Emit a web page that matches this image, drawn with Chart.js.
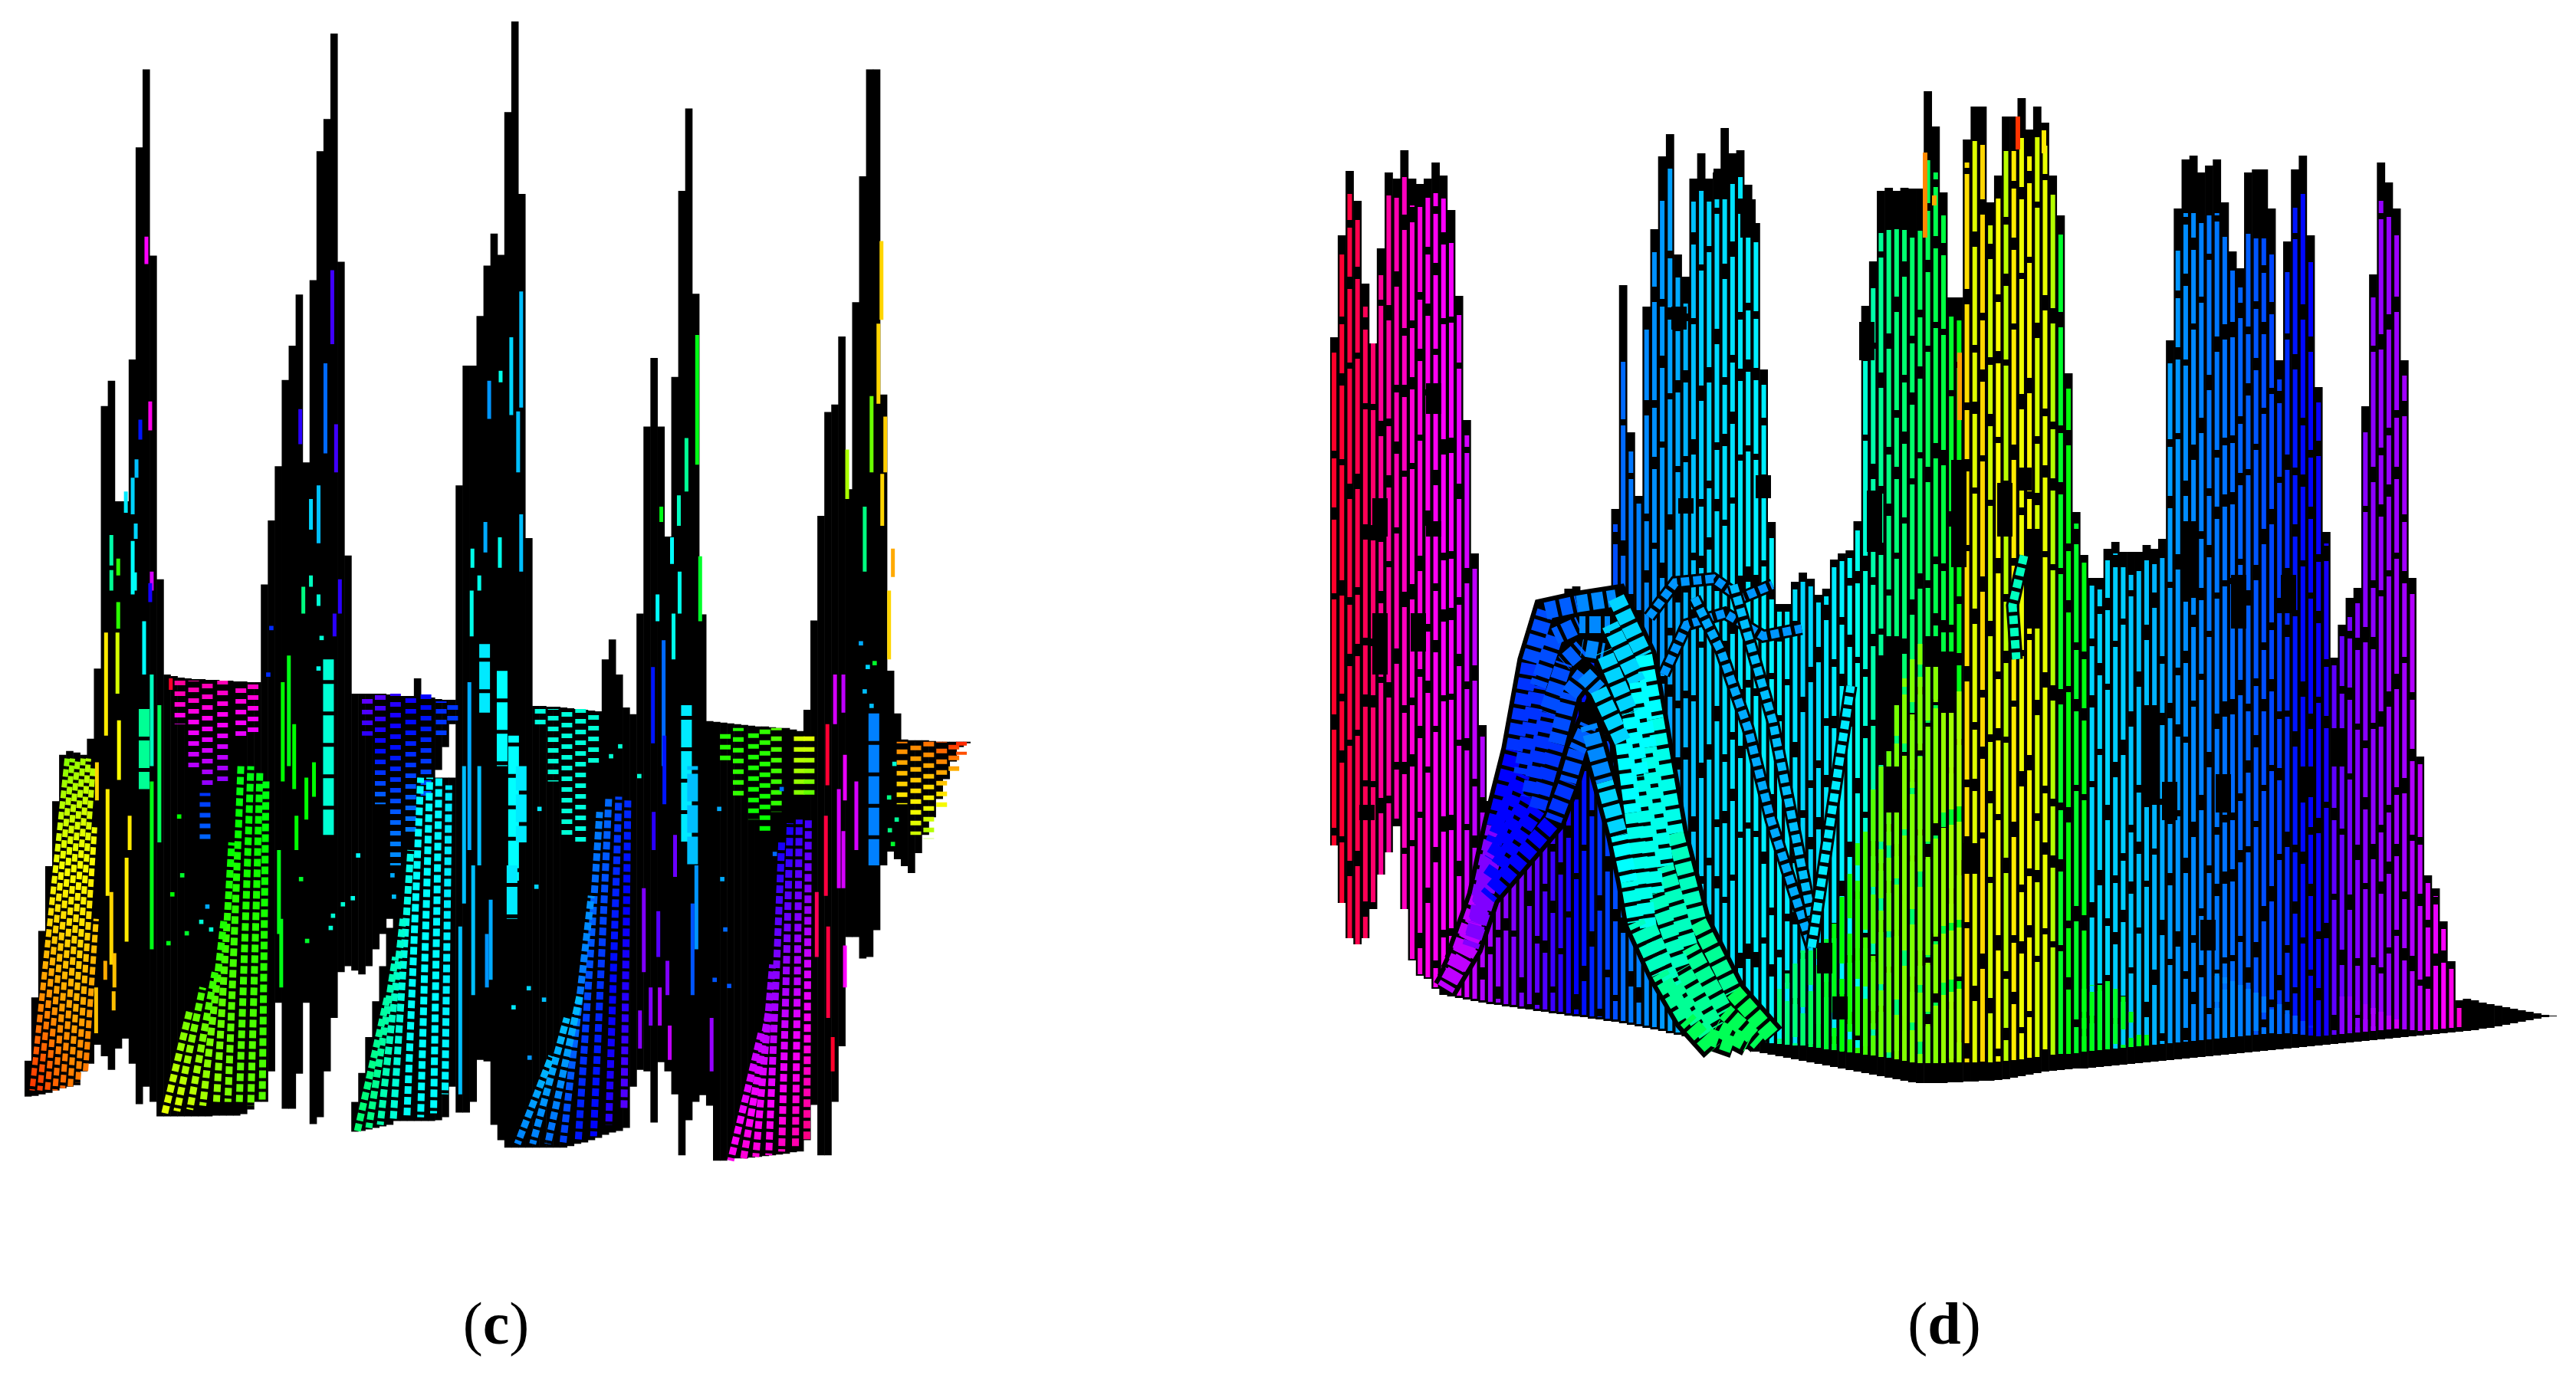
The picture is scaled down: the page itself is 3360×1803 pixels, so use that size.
<!DOCTYPE html>
<html lang="en">
<head>
<meta charset="UTF-8">
<title>Surface plots (c) and (d)</title>
<script src="https://cdn.jsdelivr.net/npm/chart.js"></script>
<style>
  html, body { margin: 0; background: #fff; }
  body { position: relative; width: 3360px; height: 1803px; overflow: hidden; }
  .panel { position: absolute; top: 0; height: 1803px; }
  .caption { position: absolute; top: 1688px; width: 200px; text-align: center; color: #000;
             font: 78px/78px "Liberation Serif", serif; }
</style>
</head>
<body>
<div class="panel" style="left:28px;width:1242px"><canvas id="chartC" width="1242" height="1803"></canvas></div>
<div class="panel" style="left:1735px;width:1600px"><canvas id="chartD" width="1600" height="1803"></canvas></div>
<div class="caption" style="left:547px">(<b>c</b>)</div>
<div class="caption" style="left:2436px">(<b>d</b>)</div>

<script>
// ---------- panel (c): black silhouette, one value per column ----------
var cTop = [1386,1303,1216,1131,1046,985,980,982,985,964,872,528,495,653,653,467,189,87,331,755,
  880,882,884,885,886,886,887,887,888,888,889,889,890,890,762,678,607,494,449,382,602,363,194,152,40,339,724,
  905,905,905,905,905,906,906,908,908,885,910,910,912,913,913,632,475,475,410,344,302,330,143,24,250,701,
  921,921,922,922,923,924,925,926,927,928,860,834,880,923,932,800,555,465,555,699,490,246,138,381,801,
  941,942,943,944,945,946,947,948,948,949,950,950,952,954,926,809,672,536,526,437,637,392,227,87,87,513,875,931,
  965,966,966,966,967,968,968,968,968,968];
var cBottom = [1433,1432,1430,1428,1425,1422,1420,1418,1400,1390,1365,1380,1398,1370,1357,1390,1443,1420,1440,1459,
  1459,1459,1459,1459,1459,1459,1459,1458,1458,1458,1458,1456,1450,1440,1440,1400,1310,1449,1449,1403,1310,1469,1460,1400,1330,1270,1262,
  1268,1273,1262,1240,1220,1200,1465,1465,1465,1465,1465,1465,1005,975,945,1454,1454,1440,1385,1387,1470,1490,1500,1500,1500,1500,
  1500,1500,1500,1500,1500,1498,1495,1493,1490,1487,1483,1480,1478,1474,1420,1398,1400,1467,1388,1400,1430,1510,1464,1440,1431,
  1445,1517,1517,1515,1514,1514,1513,1512,1511,1510,1509,1508,1506,1505,1490,1444,1510,1510,1440,1367,1224,1224,1252,1250,1215,1130,1112,1122,
  1131,1140,1114,1090,1067,1043,1017,994,975,970];
// second black piece under a white wedge: column, top, bottom
var cLowerCols = [47,48,49,50,51,52,59,60,61];
var cLowerTop = [1440,1402,1355,1308,1262,1212,1015,1015,1015];
var cLowerBottom = [1479,1478,1476,1474,1472,1470,1464,1460,1420];

// thin coloured stripes inside the spikes: x, from, to, hue
var cThin = [
  [188,306,342,300],[193,522,560,305],[180,546,572,235],[175,598,622,195],[170,622,670,190],[161,640,668,185],
  [174,682,702,190],[170,705,775,180],[142,697,737,160],[142,743,770,155],[151,728,750,110],[173,746,770,178],
  [195,745,770,290],[193,760,785,245],[151,785,820,110],[220,885,900,350],
  [432,350,447,255],[423,472,590,215],[437,552,615,255],[390,532,578,250],[414,632,708,195],[404,650,690,190],
  [394,765,800,150],[404,750,765,165],[414,775,790,170],[442,755,800,250],[435,800,830,250],
  [680,378,530,195],[667,438,540,190],[638,495,545,205],[653,482,497,175],[676,535,615,195],[680,670,745,195],
  [633,680,720,200],[652,700,740,175],[616,715,740,175],[625,750,770,175],[615,770,830,175],
  [911,435,605,125],[897,570,640,155],[887,645,685,165],[864,660,680,125],[878,700,735,180],[888,745,800,175],
  [915,725,810,130],[859,775,810,180],[880,800,860,175],
  [1153,312,415,50],[1149,420,525,50],[1140,515,615,95],[1158,542,615,48],[1154,617,685,50],[1108,585,650,80],
  [1131,660,745,150],[1168,715,752,40],[1163,770,860,50],
  [135,825,960,55],[150,825,905,70],[152,940,1018,60],[123,995,1045,50],[137,1030,1170,55],[166,1065,1110,55],
  [162,1120,1230,55],[142,1165,1260,50],[134,1255,1280,40],[146,1245,1290,45],[145,1295,1320,45],[122,1290,1350,45],
  [185,810,880,180],[195,880,1000,165],[205,920,1100,140],[195,1020,1240,125],
  [375,855,1000,125],[367,890,1020,120],[382,945,1030,120],[408,995,1040,120],[398,1015,1070,120],[385,1065,1110,120],
  [362,1110,1220,125],[365,1200,1290,125],
  [612,890,1110,200],[605,1000,1180,195],[625,1000,1130,195],[640,1175,1280,200],[617,1130,1300,195],[600,1210,1430,195],[635,1220,1290,205],
  [853,870,970,235],[867,835,1000,215],[868,960,1050,235],[854,1060,1110,250],[882,1090,1145,265],[841,1160,1270,270],
  [860,1190,1250,260],[872,1255,1300,270],[850,1290,1340,270],[836,1320,1370,272],[862,1290,1340,280],[875,1340,1385,285],
  [910,1130,1240,205],[905,1180,1300,220],[930,1330,1400,275],
  [1092,880,945,290],[1103,880,930,285],[1082,945,1025,348],[1080,1065,1170,345],[1068,1165,1250,340],[1083,1210,1330,345],
  [1089,1355,1400,350],[1097,1030,1160,290],[1105,985,1045,295],[1120,1020,1110,290],[1103,1085,1160,290],[1105,1235,1290,300]
];
// wide patches
var cWide = [[185,925,1030,155],[427,860,1090,170],[632,840,930,185],[670,960,1150,180],[655,870,1000,180],[680,1000,1100,185],
  [668,1130,1200,185],[897,920,1100,185],[905,1000,1130,195],[1143,930,1130,210]];
// brick plates seen nearly flat: x, from, to, hue at top, hue at bottom
var cPlates = [
  [232,888,945,325,300],[250,888,1005,322,280],[268,888,1030,320,272],[288,888,1025,318,272],[312,890,965,316,292],[328,890,960,315,295],
  [265,1035,1100,228,215],
  [478,905,960,265,250],[495,905,1050,262,215],[515,905,1130,252,205],[535,905,1090,245,210],[555,905,1040,240,220],[575,915,965,232,225],[590,915,945,228,226],
  [705,925,950,172,172],[722,925,1020,172,170],[740,925,1090,172,170],[758,925,1100,170,172],[775,925,1000,170,170],
  [948,955,1000,112,110],[965,950,1040,112,108],[985,950,1070,112,118],[1000,950,1085,108,120],[1015,950,1060,100,110],[1045,955,1040,68,90],[1058,960,1040,66,100],
  [1180,968,1050,30,58],[1198,968,1090,30,72],[1215,968,1095,26,82],[1232,968,1060,18,66],[1248,968,1010,10,45],[1258,968,985,8,20]
];
// slanted brick sheets: x top, y top, x bottom, y bottom, hue top, hue bottom
var cBricksNarrow = [
  [84,990,38,1425,88,12],[91,990,48,1425,86,14],[98,990,58,1425,84,18],[105,990,68,1425,82,22],[112,990,78,1422,80,24],[118,1000,88,1420,78,28],[120,1080,98,1415,65,28],[122,1200,108,1400,48,28]
];
var cBricks = [
  [312,1000,295,1440,125,90],[325,1000,310,1440,125,95],[337,1005,325,1445,125,95],[345,1020,340,1440,125,100],[300,1100,280,1440,120,85],[290,1200,262,1445,115,80],[278,1270,245,1450,110,72],[262,1290,228,1452,105,68],[245,1320,212,1455,95,65],
  [548,1015,530,1460,180,178],[560,1015,548,1460,180,180],[572,1015,565,1455,182,180],[585,1025,580,1430,185,182],[535,1110,512,1465,175,170],[525,1200,495,1470,170,160],[515,1250,480,1474,165,150],[505,1300,465,1478,160,145],
  [820,1045,815,1450,230,260],[808,1040,795,1470,225,250],[795,1040,775,1485,215,240],[783,1060,755,1490,210,235],[772,1170,735,1493,205,225],[757,1300,715,1495,195,215],[740,1330,695,1495,195,210],[720,1380,675,1495,195,210],
  [1057,1070,1055,1490,255,330],[1045,1070,1040,1500,250,320],[1033,1075,1022,1505,245,315],[1022,1100,1005,1510,245,310],[1010,1260,988,1512,270,310],[1005,1320,972,1514,280,310],[995,1350,955,1517,285,305]
];
// stray single cells showing through the black
var cDotX = [231,235,222,241,217,273,268,260,391,399,466,459,446,430,433,352,348,418,414,513,511,
  704,700,710,670,690,691,810,798,835,940,944,948,934,953,1022,1013,1126,1135,1144,1131,1140,1170,1163,1173,1164,1168];
var cDotY = [1066,1143,1168,1219,1232,1214,1184,1204,1148,1229,1117,1173,1181,1212,1196,819,880,832,872,1171,1143,
  1056,1158,1306,1316,1291,1382,974,987,1013,1056,1148,1214,1280,1288,1030,1115,839,870,865,902,921,997,1041,1070,1084,1102];
var cDotHue = [120,130,120,130,125,170,200,170,130,130,180,175,170,170,170,230,230,170,175,195,200,
  185,190,195,185,190,205,170,170,170,200,200,215,220,220,215,215,200,190,130,195,195,170,150,155,150,130];

// ---------- panel (d): one value per column ----------
var dTop = [440,307,223,262,370,448,324,225,233,196,233,240,233,212,229,274,386,548,722,946,
  1045,1070,1020,971,921,855,813,792,787,784,768,765,782,784,784,780,664,372,564,647,
  400,299,204,175,332,361,233,200,233,225,167,200,196,241,291,482,681,788,788,759,
  747,755,776,768,730,722,718,680,399,341,249,245,249,245,246,246,119,165,251,388,
  388,182,139,139,264,229,152,152,128,169,139,160,229,281,487,668,724,754,754,716,
  707,720,720,720,711,716,703,444,272,208,203,225,216,208,264,328,350,225,221,221,
  272,470,315,221,203,307,505,694,858,815,780,767,530,358,212,238,272,470,754,987,
  1142,1159,1202,1254,1305,1303,1305,1308,1310,1312,1314,1316,1318,1320,1322,1324,1325];
var dBottom = [1103,1178,1224,1232,1224,1186,1141,1112,1078,1186,1253,1273,1277,1290,1298,1300,1302,1304,1306,1308,
  1310,1311,1313,1314,1316,1317,1319,1320,1322,1323,1325,1326,1327,1329,1330,1332,1333,1335,1337,1339,
  1341,1343,1345,1348,1350,1352,1354,1356,1358,1360,1362,1365,1367,1369,1372,1374,1376,1378,1380,1382,
  1384,1386,1388,1390,1392,1394,1396,1398,1400,1402,1404,1406,1408,1410,1412,1413,1413,1413,1413,1412,
  1412,1411,1411,1410,1410,1409,1408,1406,1404,1402,1400,1398,1397,1396,1395,1394,1394,1393,1392,1391,
  1390,1389,1388,1387,1386,1385,1384,1383,1382,1381,1380,1379,1378,1377,1376,1375,1374,1373,1372,1371,
  1370,1369,1368,1367,1366,1365,1364,1363,1362,1361,1360,1359,1358,1357,1356,1355,1354,1353,1352,1351,
  1350,1349,1348,1347,1346,1345,1344,1342,1341,1339,1337,1335,1333,1331,1329,1327,1326];
// black crown above the coloured stripe
var dCrown = [20,25,30,25,30,0,35,30,25,35,35,30,25,40,30,30,25,20,20,15,
  10,10,10,10,10,10,10,10,10,10,25,25,10,10,10,10,20,100,25,10,
  30,30,40,45,30,35,30,40,30,35,55,40,35,25,25,20,15,10,10,10,
  10,10,10,10,10,10,10,12,50,35,55,55,50,55,50,55,90,60,30,20,
  30,30,45,50,30,30,45,45,50,35,40,30,25,25,20,15,10,10,15,15,
  15,20,30,25,20,20,15,30,55,70,75,65,65,70,45,25,25,80,90,90,
  60,25,40,50,50,35,20,15,10,15,25,20,20,30,50,45,35,20,15,10,
  10,10,10,10,10];
// black band between the stripes and the floor
var dBand = [0,0,0,0,0,0,0,0,0,0,2,2,2,2,2,3,3,3,3,3,3,3,3,3,3,3,3,3,3,3,3,3,3,3,3,3,3,3,3,3,3,3,3,3,3,
  4,5,6,7,8,9,10,11,12,13,14,15,16,17,18,20,20,21,21,22,22,23,24,24,25,25,26,26,26,26,26,26,26,26,26,
  26,25,25,25,24,24,24,23,22,22,21,21,21,21,20,20,22,22,22,22,22,22,22,22,22,22,22,22,22,22,22,22,22,22,22,
  22,22,22,22,22,22,20,20,18,16,14,12,12,12,12,12,12,12,12,12,12,12,10,8,6,6,6,6,6,6];
var dHue = [350,348,345,342,340,335,325,322,318,315,310,308,305,303,300,298,295,290,285,282,
  278,275,272,270,268,265,262,258,254,250,245,240,236,232,228,225,222,215,212,210,
  208,206,204,202,200,198,195,192,190,189,188,187,186,185,184,184,183,183,185,187,
  190,190,188,186,185,183,180,175,170,160,155,150,148,146,145,142,140,138,135,130,
  125,52,68,50,72,60,76,55,64,58,70,65,78,130,122,130,124,190,190,190,
  192,192,194,195,195,198,200,203,205,207,208,210,212,212,213,215,217,218,220,222,
  224,226,230,235,238,240,242,245,262,265,268,270,272,273,275,275,277,278,282,285,
  290,295,300,305,310];
// nearer columns low down in front of the ridges
var dFrontCols = [57,58,59,60,61,62,63,64,65,66,67,68,69,70,71,72,73,74,75,76,77,78,79,80,
  96,97,98,99,100,101,102,103,104,113,114,115,116,117,118,119,120,121,122,123,124,125,129,130,131,132,133,134,135,136];
var dFrontTop = [1290,1270,1250,1240,1240,1235,1225,1205,1170,1140,1100,1065,1030,1000,960,920,885,860,840,830,835,850,875,900,
  1290,1285,1285,1280,1290,1300,1320,1345,1350,1270,1275,1280,1285,1290,1295,1300,1305,1310,1318,1325,1332,1338,1300,1300,1305,1310,1315,1320,1325,1330];
var dFrontHue = [150,150,148,145,140,135,130,125,120,115,110,105,100,95,95,92,90,90,90,90,88,85,82,80,
  125,125,128,130,130,128,125,125,125,208,208,208,210,210,210,212,212,215,215,218,225,235,272,274,272,278,280,282,285,290];

// black shadow blobs on the columns: x, from, to
var dShadow = [[2470,830,920],[2520,830,870],[2540,850,930],[2555,600,740],[2615,630,700],[2640,610,640],[2652,690,820],
  [2805,920,1050],[2830,1020,1070],[2855,680,780],[2920,750,820],[2900,1010,1060],[2880,1200,1240],[2985,750,800],[3010,1000,1040],[3050,950,1000],[2570,1100,1140],
  [1800,650,700],[1800,800,880],[1783,1050,1070],[1870,500,540],[1870,680,700],[1850,800,850],[2190,400,430],[2199,650,670],[2245,220,260],[2280,260,310],[2300,620,650],
  [2460,855,980],[2470,1000,1060],[2445,640,720],[2435,420,470],[2380,1230,1270],[2400,1300,1330]];
// orange and red accents near the peaks: x, from, to, hue
var dAccent = [[2511,199,310,32],[2523,255,268,40],[2556,460,548,38],[2632,152,195,12],[2666,170,200,55]];

// mesh arch in front: five ridge lines, hue per point
var archHue = [285,270,240,228,222,218,208,190,180,175,165,155,140,125];
var archX = [
  [1905,1930,1950,1975,1996,2016,2057,2108,2144,2159,2185,2215,2261,2312],
  [1900,1928,1948,1985,2006,2028,2060,2100,2136,2150,2172,2204,2250,2295],
  [1895,1925,1946,1995,2018,2040,2063,2092,2126,2140,2160,2194,2238,2280],
  [1890,1922,1944,2005,2030,2047,2066,2085,2118,2130,2150,2184,2228,2262],
  [1885,1918,1940,2026,2045,2057,2072,2093,2112,2125,2134,2165,2200,2235]];
var archY = [
  [1240,1170,1078,979,863,797,788,780,855,938,1087,1203,1294,1352],
  [1255,1190,1100,1010,895,830,815,815,890,975,1130,1236,1320,1360],
  [1268,1205,1122,1040,930,865,845,850,930,1012,1165,1264,1340,1362],
  [1280,1220,1145,1055,970,905,880,900,970,1060,1210,1288,1352,1364],
  [1290,1235,1170,1070,1020,979,946,1020,1090,1150,1203,1270,1330,1369]];
// second, thinner mesh arch and small mesh scraps
var meshX = [[2151,2185,2235,2271,2312],[2170,2200,2250,2300,2350],[2210,2245,2280,2310,2363],[2261,2312,2363],[2363,2414],[2640,2625,2630]];
var meshY = [[805,760,755,780,763],[880,815,800,830,820],[780,850,950,1070,1236],[763,940,1196],[1236,895],[725,790,860]];
var meshHue = [205,205,200,195,185,165];

function hsl(h) { return 'hsl(' + ((h + 360) % 360) + ',100%,50%)'; }

function labelsOf(n) {
  var out = [];
  for (var i = 0; i < n; i++) out.push(String(i));
  return out;
}

// line colour running from hue a to hue b, between two values of the scales
function ramp(x0, y0, x1, y1, a, b) {
  return function(ctx) {
    var c = ctx.chart;
    if (!c.chartArea) return hsl(a);
    var g = c.ctx.createLinearGradient(c.scales.xs.getPixelForValue(x0), c.scales.y.getPixelForValue(y0),
                                       c.scales.xs.getPixelForValue(x1), c.scales.y.getPixelForValue(y1));
    for (var s = 0; s <= 6; s++) g.addColorStop(s / 6, hsl(a + (b - a) * s / 6));
    return g;
  };
}

function stripe(points, color, width, dash, offset, axis) {
  return { type: 'line', data: points, xAxisID: axis || 'xs', yAxisID: 'y', borderColor: color, borderWidth: width,
           borderDash: dash || [], borderDashOffset: offset || 0, pointRadius: 0, tension: 0, fill: false };
}

function blackBars(data) {
  return { type: 'bar', data: data, xAxisID: 'x', yAxisID: 'y', backgroundColor: '#000', borderWidth: 0,
           barPercentage: 1.06, categoryPercentage: 1, grouped: false };
}

function numberOrder(list) {
  // first dataset at the back
  list.forEach(function(d, i) { d.order = list.length - i; });
  return list;
}

function options(left, right) {
  return {
    responsive: false, animation: false, events: [],
    layout: { padding: 0 },
    plugins: { legend: { display: false }, tooltip: { enabled: false }, title: { display: false } },
    scales: {
      x: { type: 'category', display: false, offset: true },
      xs: { type: 'linear', display: false, offset: false, min: left, max: right },
      y: { type: 'linear', display: false, reverse: true, min: 0, max: 1803 }
    }
  };
}

// ---- build (c)
var cSets = [];
cSets.push(blackBars(cTop.map(function(t, i) { return [t, cBottom[i]]; })));
cSets.push(blackBars(cTop.map(function(t, i) {
  var k = cLowerCols.indexOf(i);
  return k < 0 ? null : [cLowerTop[k], cLowerBottom[k]];
})));
cPlates.forEach(function(p, i) {
  cSets.push(stripe([{x:p[0],y:p[1]},{x:p[0],y:p[2]}], ramp(p[0],p[1],p[0],p[2],p[3],p[4]), 14, [6,8], i * 5));
});
cBricksNarrow.forEach(function(p, i) {
  cSets.push(stripe([{x:p[0],y:p[1]},{x:p[2],y:p[3]}], ramp(p[0],p[1],p[2],p[3],p[4],p[5]), 7, [10,4], i * 5));
});
cBricks.forEach(function(p, i) {
  cSets.push(stripe([{x:p[0],y:p[1]},{x:p[2],y:p[3]}], ramp(p[0],p[1],p[2],p[3],p[4],p[5]), 9, [10,4], i * 5));
});
cThin.forEach(function(p) {
  cSets.push(stripe([{x:p[0],y:p[1]},{x:p[0],y:p[2]}], hsl(p[3]), 5));
});
cWide.forEach(function(p, i) {
  cSets.push(stripe([{x:p[0],y:p[1]},{x:p[0],y:p[2]}], hsl(p[3]), 14, [36,5], i * 9));
});
cSets.push({ type: 'line', showLine: false, xAxisID: 'xs', yAxisID: 'y',
  data: cDotX.map(function(x, i) { return {x: x, y: cDotY[i]}; }),
  pointStyle: 'rect', pointRadius: 4, pointBorderWidth: 0,
  pointBackgroundColor: cDotHue.map(hsl) });
new Chart(document.getElementById('chartC'), {
  type: 'bar',
  data: { labels: labelsOf(cTop.length), datasets: numberOrder(cSets) },
  options: options(28, 1270)
});

// ---- build (d)
var dDash = [128,10,64,16,96,8,150,20];
var dSets = [];
dSets.push(blackBars(dTop.map(function(t, i) { return [t, dBottom[i]]; })));
dHue.forEach(function(h, i) {
  dSets.push(stripe([{x:String(i),y:dTop[i]+dCrown[i]},{x:String(i),y:dBottom[i]-dBand[i]}], hsl(h), 6, dDash, i * 47 % 500, 'x'));
});
dFrontCols.forEach(function(c, k) {
  dSets.push(stripe([{x:String(c),y:dFrontTop[k]},{x:String(c),y:dBottom[c]-dBand[c]}], hsl(dFrontHue[k]), 6, dDash, c * 29 % 500, 'x'));
});
dShadow.forEach(function(p) {
  dSets.push(stripe([{x:p[0],y:p[1]},{x:p[0],y:p[2]}], '#000', 20));
});
dAccent.forEach(function(p) {
  dSets.push(stripe([{x:p[0],y:p[1]},{x:p[0],y:p[2]}], hsl(p[3]), 6));
});
meshX.forEach(function(xs, m) {
  var pts = xs.map(function(x, i) { return {x: x, y: meshY[m][i]}; });
  dSets.push(stripe(pts, '#000', 17));
  dSets.push(stripe(pts, hsl(meshHue[m]), 11, [11,5]));
});
archX.forEach(function(xs, m) {
  var pts = xs.map(function(x, i) { return {x: x, y: archY[m][i]}; });
  dSets.push(stripe(pts, '#000', 34));
});
archX.forEach(function(xs, m) {
  var pts = xs.map(function(x, i) { return {x: x, y: archY[m][i]}; });
  var s = stripe(pts, hsl(archHue[0]), 22, [15,5], m * 7);
  s.segment = { borderColor: function(ctx) { return hsl(archHue[ctx.p0DataIndex]); } };
  dSets.push(s);
});
new Chart(document.getElementById('chartD'), {
  type: 'bar',
  data: { labels: labelsOf(dTop.length), datasets: numberOrder(dSets) },
  options: options(1735, 3335)
});
</script>
</body>
</html>
